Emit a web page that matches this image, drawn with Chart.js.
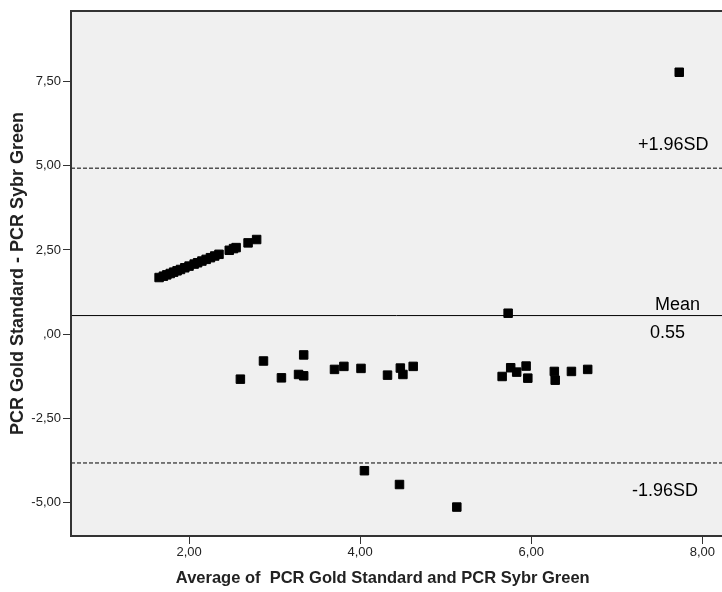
<!DOCTYPE html>
<html>
<head>
<meta charset="utf-8">
<script src="https://cdn.jsdelivr.net/npm/chart.js@4.4.1/dist/chart.umd.min.js"></script>
<style>
  html, body { margin: 0; padding: 0; background: #fff; overflow: hidden; }
  #grafica { display: block; }
</style>
</head>
<body>
<canvas id="grafica" width="722" height="592"></canvas>
<script>
// promedio de ambos métodos (x) y diferencia (y)
const mediaX = [1.65, 1.70, 1.74, 1.78, 1.82, 1.86, 1.90, 1.95, 2.00, 2.06, 2.10, 2.15, 2.20, 2.25, 2.30, 2.35, 2.47, 2.52, 2.55, 2.69, 2.79,
                2.60, 2.87, 3.08, 3.28, 3.34, 3.34, 3.70, 3.81, 4.01, 4.32, 4.47, 4.50, 4.62,
                4.05, 4.46, 5.13,
                5.66, 5.73, 5.76, 5.83, 5.94, 5.96, 6.27, 6.28, 6.47, 6.66, 7.73];
const difY   = [1.68, 1.72, 1.76, 1.80, 1.84, 1.88, 1.92, 1.97, 2.02, 2.08, 2.12, 2.17, 2.22, 2.27, 2.32, 2.37, 2.49, 2.54, 2.57, 2.71, 2.81,
                -1.34, -0.80, -1.30, -1.20, -1.24, -0.62, -1.05, -0.96, -1.02, -1.22, -1.01, -1.20, -0.96,
                -4.06, -4.47, -5.14,
                -1.26, 0.62, -1.00, -1.13, -0.95, -1.31, -1.11, -1.37, -1.11, -1.05, 7.78];

const media    = 0.55;
const limSup   = 4.93;
const limInf   = -3.83;

const xMin = 0.62, xMax = 8.23;
const yMin = -6.0, yMax = 9.6;

const ticksX      = [2, 4, 6, 8];
const etiquetasX  = ["2,00", "4,00", "6,00", "8,00"];
const ticksY      = [-5, -2.5, 0, 2.5, 5, 7.5];
const etiquetasY  = ["-5,00", "-2,50", ",00", "2,50", "5,00", "7,50"];

const textoSup   = "+1.96SD";
const textoMedia = "Mean";
const textoValor = "0.55";
const textoInf   = "-1.96SD";

const FUENTE = "'Liberation Sans', Arial, sans-serif";
Chart.defaults.font.family = FUENTE;

const lineaH = v => [{ x: xMin, y: v }, { x: xMax, y: v }];

const marco = {
  id: "marco",
  beforeDraw(chart) {
    const { ctx, chartArea: a } = chart;
    ctx.save();
    ctx.fillStyle = "#f0f0f0";
    ctx.fillRect(a.left, a.top, a.right - a.left, a.bottom - a.top);
    ctx.restore();
  },
  afterDraw(chart) {
    const { ctx, chartArea: a, scales } = chart;
    ctx.save();
    ctx.strokeStyle = "#333";
    ctx.lineWidth = 2;
    ctx.beginPath();
    ctx.moveTo(a.right + 2, a.top);
    ctx.lineTo(a.left, a.top);
    ctx.lineTo(a.left, a.bottom);
    ctx.lineTo(a.right + 2, a.bottom);
    ctx.stroke();

    // textos de las líneas de referencia
    const y = scales.y;
    ctx.fillStyle = "#000";
    ctx.font = "18px " + FUENTE;
    ctx.textBaseline = "alphabetic";
    ctx.textAlign = "left";
    ctx.fillText(textoSup, 638, y.getPixelForValue(limSup) - 18);
    ctx.fillText(textoMedia, 655, y.getPixelForValue(media) - 6);
    ctx.fillText(textoValor, 650, y.getPixelForValue(media) + 22);
    ctx.fillText(textoInf, 632, y.getPixelForValue(limInf) + 33);
    ctx.restore();
  }
};

new Chart(document.getElementById("grafica"), {
  type: "scatter",
  data: {
    datasets: [
      { data: mediaX.map((x, i) => ({ x, y: difY[i] })), pointStyle: "rect", pointRadius: 6,
        backgroundColor: "#000", borderColor: "#000", borderWidth: 1, order: 0 },
      { type: "line", data: lineaH(media), borderColor: "#000", borderWidth: 1, pointRadius: 0, order: 1 },
      { type: "line", data: lineaH(limSup), borderColor: "#000", borderWidth: 1, borderDash: [4, 2], pointRadius: 0, order: 1 },
      { type: "line", data: lineaH(limInf), borderColor: "#000", borderWidth: 1, borderDash: [4, 2], pointRadius: 0, order: 1 }
    ]
  },
  options: {
    responsive: false,
    animation: false,
    devicePixelRatio: 1,
    layout: { autoPadding: false, padding: { top: 11, right: 0, left: 0, bottom: 0 } },
    plugins: { legend: { display: false }, tooltip: { enabled: false } },
    scales: {
      x: {
        type: "linear", min: xMin, max: xMax,
        afterBuildTicks: s => { s.ticks = ticksX.map(v => ({ value: v })); },
        afterFit: s => { s.height = 56; s.paddingLeft = 0; s.paddingRight = 0; },
        ticks: { callback: (v) => etiquetasX[ticksX.indexOf(v)], color: "#222", font: { size: 13 }, padding: 1, maxRotation: 0 },
        grid: { drawOnChartArea: false, drawTicks: true, tickLength: 8, color: "#333", lineWidth: 1 },
        border: { display: false },
        title: { display: true, text: "Average of  PCR Gold Standard and PCR Sybr Green      ",
                 color: "#222", font: { size: 16.5, weight: "bold" }, padding: { top: 0, bottom: 4 } }
      },
      y: {
        type: "linear", min: yMin, max: yMax,
        afterBuildTicks: s => { s.ticks = ticksY.map(v => ({ value: v })); },
        afterFit: s => { s.width = 71; },
        ticks: { callback: (v) => etiquetasY[ticksY.indexOf(v)], color: "#222", font: { size: 13 }, padding: 2 },
        grid: { drawOnChartArea: false, drawTicks: true, tickLength: 8, color: "#333", lineWidth: 1 },
        border: { display: false },
        title: { display: true, text: "PCR Gold Standard - PCR Sybr Green",
                 color: "#222", font: { size: 18, weight: "bold" }, padding: { top: 7, bottom: 0 } }
      }
    }
  },
  plugins: [marco]
});
</script>
</body>
</html>
